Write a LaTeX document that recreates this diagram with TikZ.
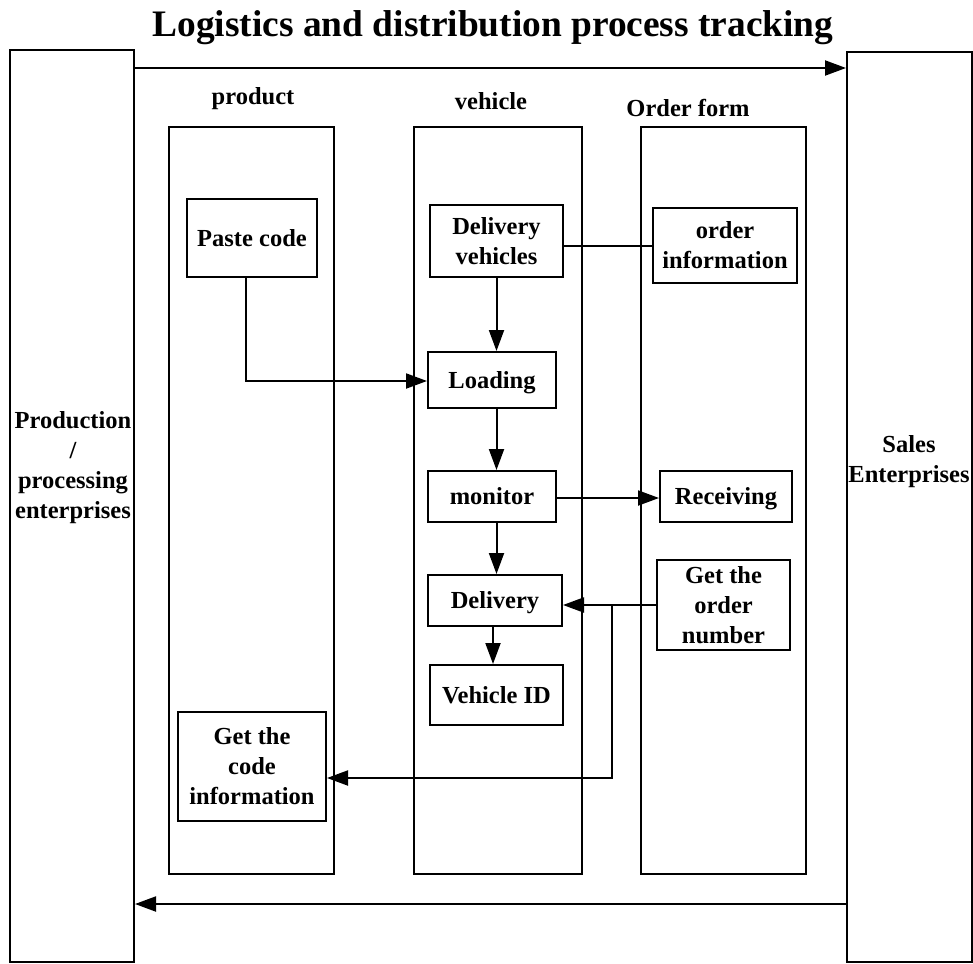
\documentclass[tikz,border=0pt]{standalone}
\usepackage{fontspec}
\setmainfont{Liberation Serif}
\usetikzlibrary{arrows.meta,calc}
\begin{document}
\begin{tikzpicture}[x=1pt,y=-1pt,
  every node/.style={font=\bfseries\fontsize{24.5}{30}\selectfont},
  box/.style={draw,line width=2pt,inner sep=0pt,align=center},
  oneline/.style={text height=16.2pt,text depth=0pt},
  big/.style={draw,line width=2pt},
  lane/.style={draw,line width=2pt},
  ln/.style={line width=2pt},
  arr/.style={line width=2pt,-{Triangle[length=21pt,width=15pt]}}]
\useasboundingbox (0,0) rectangle (973,963);
% title
\node[anchor=base,font=\bfseries\fontsize{37.4}{40}\selectfont] (title) at (493,37) {Logistics and distribution process tracking};
% big side boxes
\node[big,minimum width=124pt,minimum height=912pt,inner sep=0pt] (pp) at (72,506) {};
\node[big,minimum width=125pt,minimum height=910pt,inner sep=0pt] (se) at (909.5,507) {};
\node[align=center] (pptext) at (73,468) {Production\\/\\processing\\enterprises};
\node[align=center] (setext) at (909,462) {Sales\\Enterprises};
% lanes
\node[lane,minimum width=165pt,minimum height=747pt,inner sep=0pt] (lprod) at (251.5,500.5) {};
\node[lane,minimum width=168pt,minimum height=747pt,inner sep=0pt] (lveh) at (498,500.5) {};
\node[lane,minimum width=165pt,minimum height=747pt,inner sep=0pt] (lord) at (723.5,500.5) {};
\node[anchor=base] (tprod) at (253,105) {product};
\node[anchor=base] (tveh) at (491,110) {vehicle};
\node[anchor=base] (tord) at (688,117) {Order form};
% boxes
\node[box,oneline,minimum width=130pt,minimum height=78pt] (paste) at (252,238) {Paste code};
\node[box,minimum width=133pt,minimum height=72pt] (dveh) at (496.5,241) {Delivery\\vehicles};
\node[box,minimum width=144pt,minimum height=75pt] (oinfo) at (725,245.5) {order\\information};
\node[box,oneline,minimum width=128pt,minimum height=56pt] (load) at (492,380) {Loading};
\node[box,oneline,minimum width=128pt,minimum height=51pt] (mon) at (492,496.5) {monitor};
\node[box,oneline,minimum width=132pt,minimum height=51pt] (recv) at (726,496.5) {Receiving};
\node[box,oneline,minimum width=134pt,minimum height=51pt] (deliv) at (495,600.5) {Delivery};
\node[box,minimum width=133pt,minimum height=90pt] (gon) at (723.5,605) {Get the\\order\\number};
\node[box,oneline,minimum width=133pt,minimum height=60pt] (vid) at (496.5,695) {Vehicle ID};
\node[box,minimum width=148pt,minimum height=109pt] (gci) at (252,766.5) {Get the\\code\\information};
% helper coordinates
\coordinate (ytop) at (0,68);
\coordinate (ybot) at (0,904);
\coordinate (j) at (612,605);
% connectors
\draw[arr] (pp.east |- ytop) -- (se.west |- ytop);
\draw[arr] (se.west |- ybot) -- (pp.east |- ybot);
\draw[arr] ([xshift=-6pt]paste.south) |- ([yshift=-1pt]load.west);
\draw[ln] (dveh.east |- oinfo.west) -- (oinfo.west);
\draw[arr] (dveh.south) -- (load.north -| dveh.south);
\draw[arr] (load.south -| dveh.south) -- (mon.north -| dveh.south);
\draw[arr] (mon.south -| dveh.south) -- (deliv.north -| dveh.south);
\draw[arr] ([xshift=-2pt]deliv.south) -- ([xshift=-2pt]vid.north -| deliv.south);
\draw[arr] ([yshift=-1.5pt]mon.east) -- ([yshift=-1.5pt]recv.west);
\draw[arr] (gon.west) -- (deliv.east |- gon.west);
\draw[arr] (j) |- ([yshift=-11.5pt]gci.east);
\end{tikzpicture}
\end{document}
